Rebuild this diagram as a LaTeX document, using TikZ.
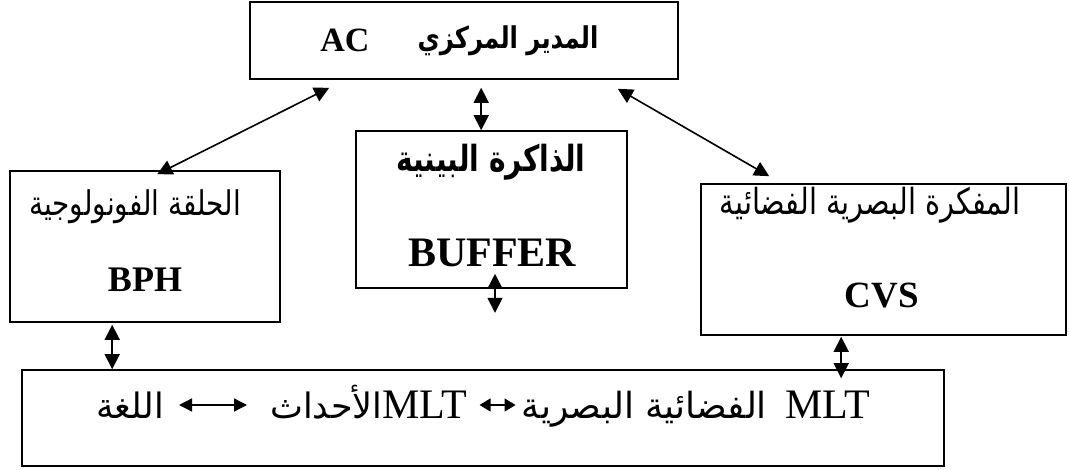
\documentclass[tikz,border=0pt]{standalone}
\usepackage{fontspec}
\usepackage{graphicx}
\setmainfont{Liberation Serif}
\newfontfamily\arabicfont[Script=Arabic]{DejaVu Sans}
\usetikzlibrary{arrows.meta}
\TeXXeTstate=1

\begin{document}
\begin{tikzpicture}[x=1pt,y=-1pt,
  box/.style={draw, line width=1.6pt, inner sep=0pt},
  link/.style={line width=1.6pt,
    {Triangle[length=15pt,width=15pt]}-{Triangle[length=15pt,width=15pt]}},
  lbl/.style={inner sep=0pt},
  ar/.style={lbl, font=\arabicfont\fontsize{#1}{#1}\selectfont},
  arb/.style={lbl, font=\arabicfont\bfseries\fontsize{#1}{#1}\selectfont},
  lat/.style={lbl, font=\bfseries\fontsize{#1}{#1}\selectfont},
  line/.style={lbl, text height=26pt, text depth=0pt}]
\useasboundingbox (0,0) rectangle (1069,470);

% boxes
\node[box, minimum width=428pt, minimum height=77pt] (ac) at (464,40.5) {};
\node[box, minimum width=270pt, minimum height=151pt] (bph) at (145,246.5) {};
\node[box, minimum width=271pt, minimum height=157pt] (buf) at (491.5,209.5) {};
\node[box, minimum width=365pt, minimum height=151pt] (cvs) at (883.5,259.5) {};
\node[box, minimum width=922pt, minimum height=96pt] (mlt) at (483,418) {};

% labels (Arabic narrowed horizontally)
\node[arb=30] (acar) at (508,41) {\scalebox{0.81}[1]{\beginR المدير المركزي\endR}};
\node[lat=34] (aclat) at (345,40) {AC};
\node[ar=34] (bphar) at (135,207) {\scalebox{0.82}[1]{\beginR الحلقة الفونولوجية\endR}};
\node[lat=36] (bphlat) at (145,280) {BPH};
\node[arb=36] (bufar) at (491,162) {\scalebox{0.78}[1]{\beginR الذاكرة البينية\endR}};
\node[lat=42] (buflat) at (492,253) {BUFFER};
\node[ar=36] (cvsar) at (870,205) {\scalebox{0.8}[1]{\beginR المفكرة البصرية الفضائية\endR}};
\node[lat=37] (cvslat) at (882,296) {CVS};

% bottom line of text
\node[line, anchor=base, font=\arabicfont\fontsize{35}{35}\selectfont] (lang) at (130,418) {\beginR اللغة\endR};
\node[line, anchor=base west, font=\fontsize{42}{42}\selectfont] (events) at (270,418)
  {\beginR\beginL MLT\endL{\arabicfont\fontsize{35}{35}\selectfont الأحداث}\endR};
\node[line, anchor=base east, font=\fontsize{42}{42}\selectfont] (visual) at (870,418)
  {\beginR\beginL MLT\endL\hspace{18pt}{\arabicfont\fontsize{36}{36}\selectfont الفضائية البصرية}\endR};
\draw[line width=1.4pt, {Triangle[length=13pt,width=13pt]}-{Triangle[length=13pt,width=13pt]}]
  ([xshift=15pt]lang.east) -- ([xshift=-23pt]events.west);
\draw[line width=1.4pt, {Triangle[length=11pt,width=13pt]}-{Triangle[length=11pt,width=13pt]}]
  ([xshift=12pt]events.east) -- ([xshift=-6pt]visual.west);

% connectors
\coordinate (acL) at ([shift={(80,8)}]ac.south west);
\coordinate (bphT) at ([shift={(148,4)}]bph.north west);
\coordinate (acM) at ([shift={(232,8)}]ac.south west);
\coordinate (acR) at ([shift={(-61,9)}]ac.south east);
\coordinate (cvsT) at ([shift={(69,-7)}]cvs.north west);
\coordinate (bufIn) at ([shift={(3.5,-15)}]buf.south);
\coordinate (bufOut) at ([shift={(3.5,24)}]buf.south);
\coordinate (bphB) at ([shift={(103,2)}]bph.south west);
\coordinate (mltL) at ([shift={(91,0)}]mlt.north west);
\coordinate (cvsB) at ([shift={(141,1)}]cvs.south west);
\coordinate (mltR) at ([shift={(820,9)}]mlt.north west);

\draw[link] (acL) -- (bphT);
\draw[link] (acM) -- (acM |- buf.north);
\draw[link] (acR) -- (cvsT);
\draw[link] (bufIn) -- (bufOut);
\draw[link] (bphB) -- (mltL);
\draw[link] (cvsB) -- (mltR);
\end{tikzpicture}
\end{document}
